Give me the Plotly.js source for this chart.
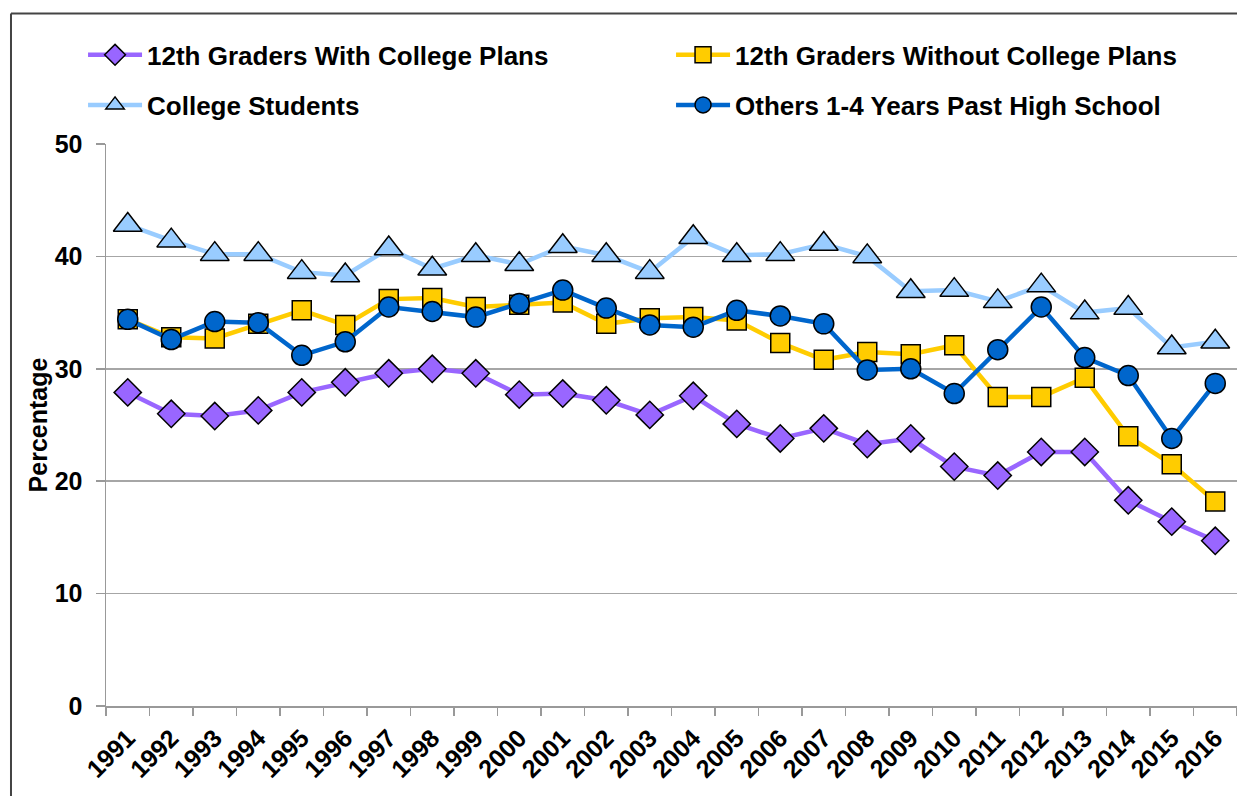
<!DOCTYPE html>
<html><head><meta charset="utf-8">
<script src="https://cdn.plot.ly/plotly-3.0.1.min.js"></script>
<style>html,body{margin:0;padding:0;background:#fff}#chart{width:1237px;height:796px}</style>
</head><body><div id="chart"></div>
<script>
const years = ["1991","1992","1993","1994","1995","1996","1997","1998","1999","2000","2001","2002","2003","2004","2005","2006","2007","2008","2009","2010","2011","2012","2013","2014","2015","2016"];
const withPlans = [27.9,26.0,25.8,26.3,27.9,28.8,29.6,30.0,29.6,27.7,27.8,27.2,25.9,27.6,25.1,23.8,24.7,23.3,23.8,21.3,20.5,22.6,22.6,18.3,16.4,14.7];
const withoutPlans = [34.4,32.8,32.7,34.0,35.2,33.9,36.2,36.3,35.5,35.7,35.9,34.0,34.5,34.6,34.3,32.3,30.8,31.5,31.3,32.1,27.5,27.5,29.2,24.0,21.5,18.2];
const collegeStudents = [42.8,41.4,40.2,40.2,38.6,38.3,40.7,38.9,40.1,39.3,40.9,40.1,38.6,41.7,40.1,40.2,41.1,40.0,36.9,37.0,36.0,37.4,35.0,35.4,31.9,32.4];
const others = [34.4,32.6,34.2,34.1,31.2,32.4,35.5,35.1,34.6,35.8,37.0,35.4,33.9,33.7,35.2,34.7,34.0,29.9,30.0,27.8,31.7,35.5,31.0,29.4,23.8,28.7];
const seriesNames = ["12th Graders With College Plans","12th Graders Without College Plans","College Students","Others 1-4 Years Past High School"];
const yTicks = [0,10,20,30,40,50];

const FONT = "Liberation Sans, Arial, sans-serif";
const mk = (y, name, color, symbol, size, legend) => ({
  type: "scatter", mode: "lines+markers", x: years, y: y, name: name, legend: legend,
  line: {color: color, width: 4.5},
  marker: {symbol: symbol, size: size, color: color, line: {color: "#000", width: 1.5}},
  cliponaxis: false, hoverinfo: "x+y+name"
});
const data = [
  mk(withPlans, seriesNames[0], "#9966FF", "diamond", 21, "legend"),
  mk(withoutPlans, seriesNames[1], "#FFCC00", "square", 19, "legend2"),
  mk(collegeStudents, seriesNames[2], "#99CCFF", "triangle-up", 25, "legend3"),
  mk(others, seriesNames[3], "#0066CC", "circle", 20, "legend4")
];
const legendBase = {
  orientation: "h", xanchor: "left", yanchor: "middle",
  font: {family: FONT, size: 26, color: "#000", weight: "bold"},
  itemwidth: 54, bgcolor: "rgba(0,0,0,0)", borderwidth: 0
};
const lg = (x, y) => Object.assign({}, legendBase, {x: x, y: y});
const layout = {
  width: 1237, height: 796,
  margin: {l: 106, r: 0, t: 144, b: 90, pad: 0},
  paper_bgcolor: "#fff", plot_bgcolor: "#fff",
  font: {family: FONT, color: "#000"},
  showlegend: true,
  legend: lg(-0.0203, 1.1585),
  legend2: lg(0.4996, 1.1585),
  legend3: lg(-0.0203, 1.0694),
  legend4: lg(0.4996, 1.0694),
  xaxis: {
    type: "category", range: [-0.5, 25.5], tickangle: -45, tickson: "boundaries",
    ticks: "outside", ticklen: 8, tickcolor: "#999", tickwidth: 1.5, ticklabelstandoff: 6,
    showline: true, linecolor: "#999", linewidth: 1.5, showgrid: false, zeroline: false,
    tickfont: {family: FONT, size: 25, color: "#000", weight: "bold"}
  },
  yaxis: {
    range: [0, 50], tickvals: yTicks, ticktext: yTicks.map(String),
    showgrid: true, gridcolor: "#A6A6A6", gridwidth: 1.5,
    showline: true, linecolor: "#999", linewidth: 1.5, zeroline: false,
    ticks: "outside", ticklen: 9, tickcolor: "#999", tickwidth: 1.5, ticklabelstandoff: 8,
    tickfont: {family: FONT, size: 25, color: "#000", weight: "bold"},
    title: {text: "Percentage", standoff: 0, font: {family: FONT, size: 25, color: "#000", weight: "bold"}}
  },
  shapes: [
    {type: "line", xref: "paper", yref: "paper", x0: -0.084, x1: -0.084, y0: 1.2323, y1: -0.25, line: {color: "#444", width: 2}},
    {type: "line", xref: "paper", yref: "paper", x0: -0.084, x1: 1.05, y0: 1.2323, y1: 1.2323, line: {color: "#444", width: 2}}
  ]
};
Plotly.newPlot("chart", data, layout, {displayModeBar: false, staticPlot: true});
</script>
</body></html>
